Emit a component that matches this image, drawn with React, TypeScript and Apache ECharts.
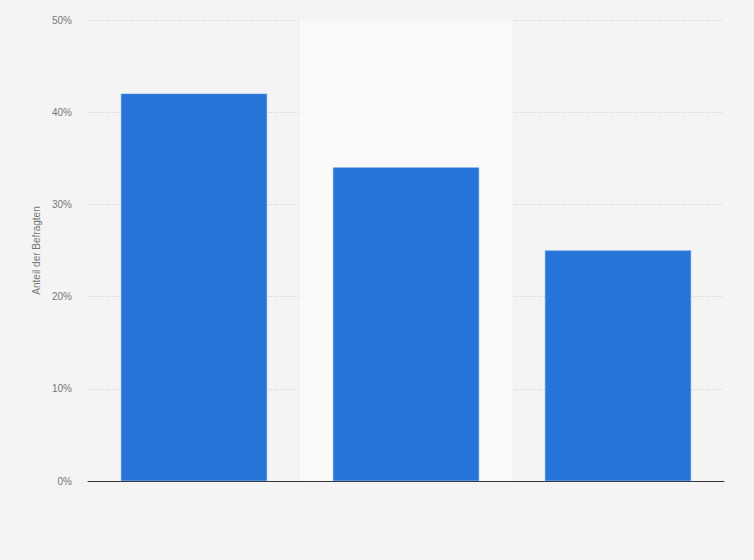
import React, { useEffect, useRef } from "react";
import * as echarts from "echarts";

const categories = ["A", "B", "C"];
const values = [42, 34, 25];
const yTicks = [0, 10, 20, 30, 40, 50];

export default function App() {
  const ref = useRef<HTMLDivElement>(null);
  useEffect(() => {
    if (!ref.current) return;
    const chart = echarts.init(ref.current, undefined, { renderer: "svg" });
    chart.setOption({
      animation: false,
      backgroundColor: "#f4f4f4",
      grid: { left: 88, right: 30, top: 20, bottom: 79, containLabel: false },
      xAxis: {
        type: "category",
        data: categories,
        axisLine: { show: true, lineStyle: { color: "#333", width: 1 } },
        axisTick: { show: false },
        axisLabel: { show: false },
        splitArea: { show: true, areaStyle: { color: ["rgba(0,0,0,0)", "#f9f9f9"] } },
      },
      yAxis: {
        type: "value",
        min: yTicks[0],
        max: yTicks[yTicks.length - 1],
        interval: 10,
        name: "Anteil der Befragten",
        nameLocation: "middle",
        nameGap: 44,
        nameTextStyle: { color: "#777", fontSize: 10, fontFamily: "Arial, Liberation Sans, sans-serif" },
        axisLine: { show: false },
        axisTick: { show: false },
        axisLabel: {
          formatter: "{value}%",
          color: "#777",
          fontSize: 10,
          margin: 16,
          fontFamily: "Arial, Liberation Sans, sans-serif",
        },
        splitLine: { show: true, lineStyle: { color: "#cfcfcf", type: [1, 2], width: 1 } },
      },
      series: [
        {
          type: "bar",
          data: values,
          barWidth: 146,
          itemStyle: { color: "#2775d9", borderColor: "#4a8ce0", borderWidth: 0.5 },
        },
      ],
    });
    return () => chart.dispose();
  }, []);
  return <div ref={ref} style={{ width: 754, height: 560, position: "absolute", left: 0, top: 0 }} />;
}
